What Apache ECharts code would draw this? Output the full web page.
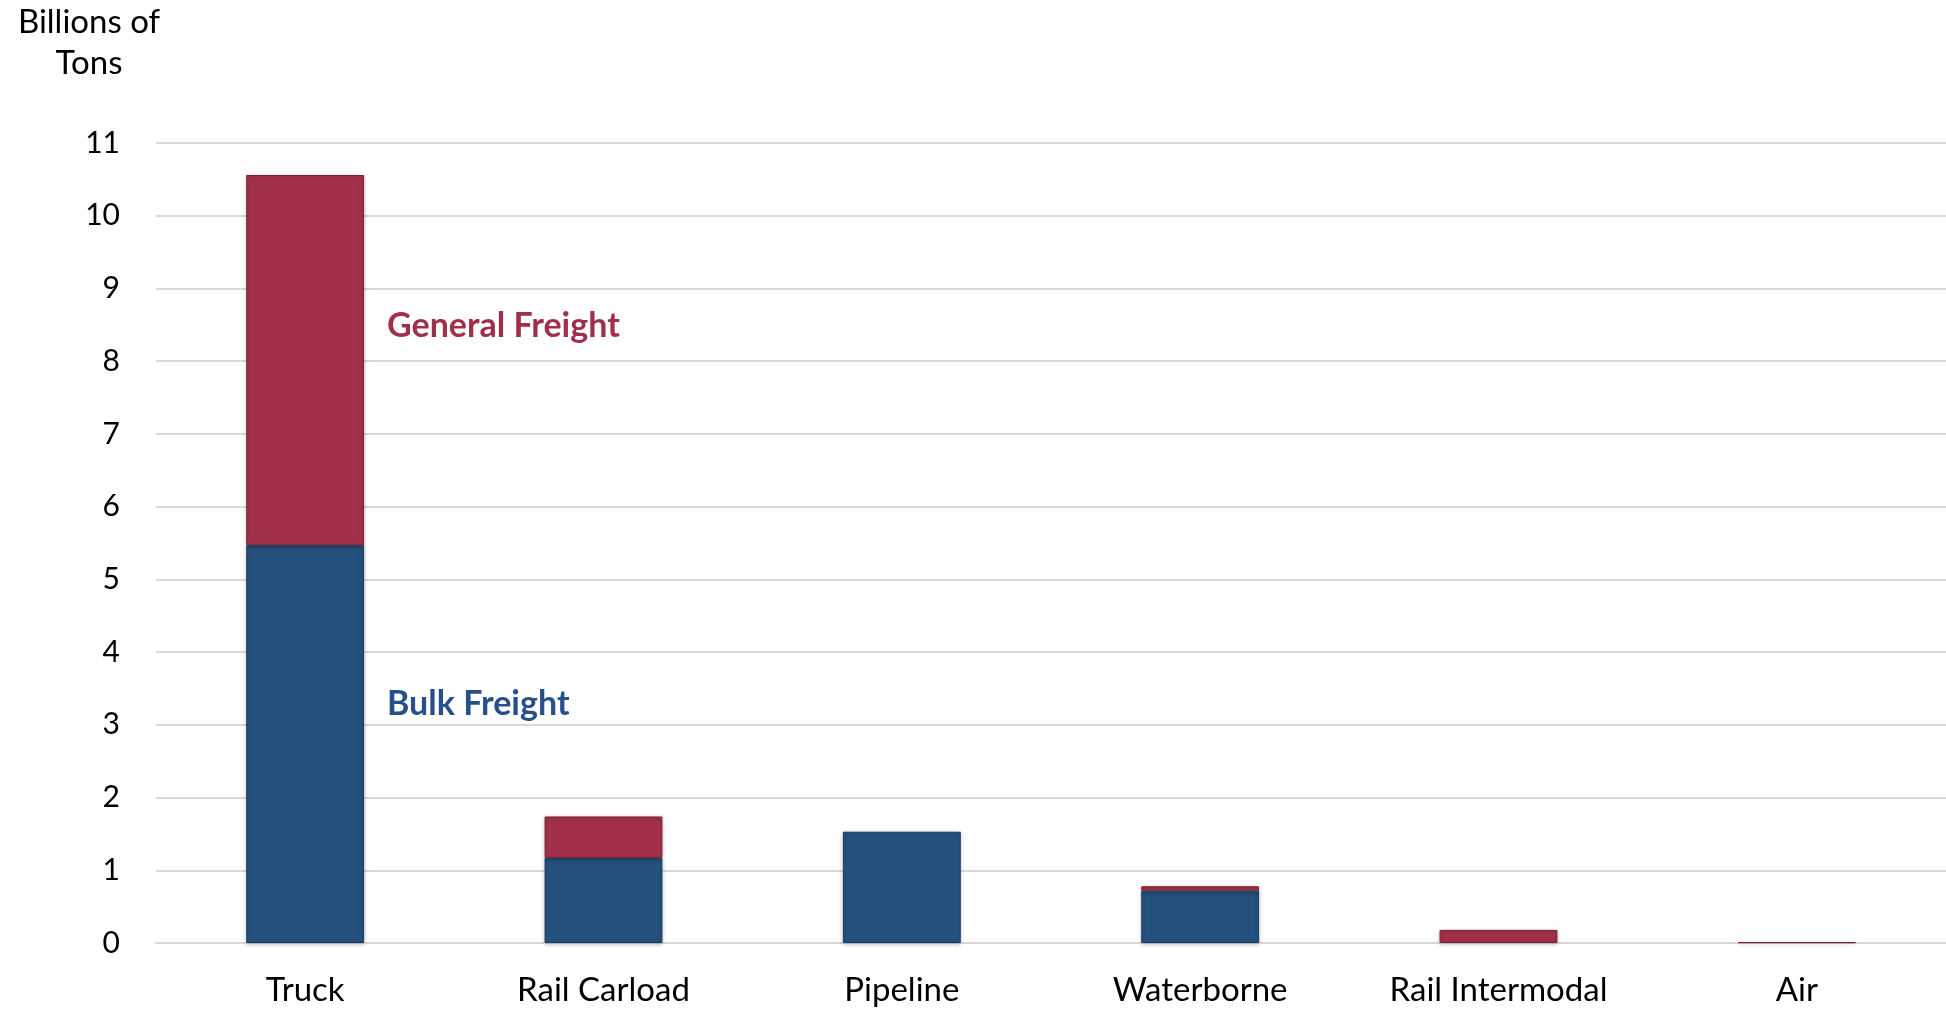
<!DOCTYPE html>
<html>
<head>
<meta charset="utf-8">
<script src="https://cdn.jsdelivr.net/npm/echarts@6/dist/echarts.min.js"></script>
<style>
  html, body { margin: 0; padding: 0; background: #fff; }
  #main { width: 1946px; height: 1011px; }
</style>
</head>
<body>
<div id="main"></div>
<script>
// values, billions of tons (null = no bar)
var modes = ["Truck", "Rail Carload", "Pipeline", "Waterborne", "Rail Intermodal", "Air"];
var bulkFreight = [5.47, 1.17, 1.53, 0.72, null, null];
var generalFreight = [5.09, 0.57, null, 0.06, 0.18, 0.01];

var FONT = "Lato";
var RED = "#A3304A";
var BLUE = "#25517F";

var myChart = echarts.init(document.getElementById("main"));

var option = {
  animation: false,
  textStyle: { fontFamily: FONT },
  grid: { left: 156, right: 0, top: 143, bottom: 68 },
  xAxis: {
    type: "category",
    data: modes,
    axisLine: { lineStyle: { color: "#D9D9D9", width: 2 } },
    axisTick: { show: false },
    axisLabel: { color: "#000", fontSize: 33, fontFamily: FONT, margin: 31 }
  },
  yAxis: {
    type: "value",
    min: 0,
    max: 11,
    interval: 1,
    axisLine: { show: false },
    axisTick: { show: false },
    splitLine: { lineStyle: { color: "#D9D9D9", width: 2 } },
    axisLabel: { color: "#000", fontSize: 30, fontFamily: FONT, margin: 36 }
  },
  series: [
    {
      name: "Bulk Freight",
      type: "bar",
      stack: "tons",
      barWidth: "39.5%",
      data: bulkFreight,
      itemStyle: {
        color: BLUE,
        borderColor: "#1B3C60",
        borderWidth: 1,
        shadowColor: "rgba(0,0,0,0.25)",
        shadowBlur: 4,
        shadowOffsetY: 1
      }
    },
    {
      name: "General Freight",
      type: "bar",
      stack: "tons",
      barWidth: "39.5%",
      data: generalFreight,
      itemStyle: {
        color: RED,
        borderColor: "#7A2236",
        borderWidth: 1,
        shadowColor: "rgba(0,0,0,0.25)",
        shadowBlur: 4,
        shadowOffsetY: 1
      }
    }
  ],
  graphic: [
    {
      type: "text",
      x: 89, y: 2,
      style: {
        text: "Billions of\nTons",
        font: "33px " + FONT,
        fill: "#000",
        align: "center",
        verticalAlign: "top",
        lineHeight: 41
      }
    },
    {
      type: "text",
      x: 387, y: 326,
      style: { text: "General Freight", font: "bold 34px " + FONT, fill: "#A0304A", verticalAlign: "middle" }
    },
    {
      type: "text",
      x: 387, y: 704,
      style: { text: "Bulk Freight", font: "bold 34px " + FONT, fill: "#27508A", verticalAlign: "middle" }
    }
  ]
};

myChart.setOption(option);
</script>
</body>
</html>
